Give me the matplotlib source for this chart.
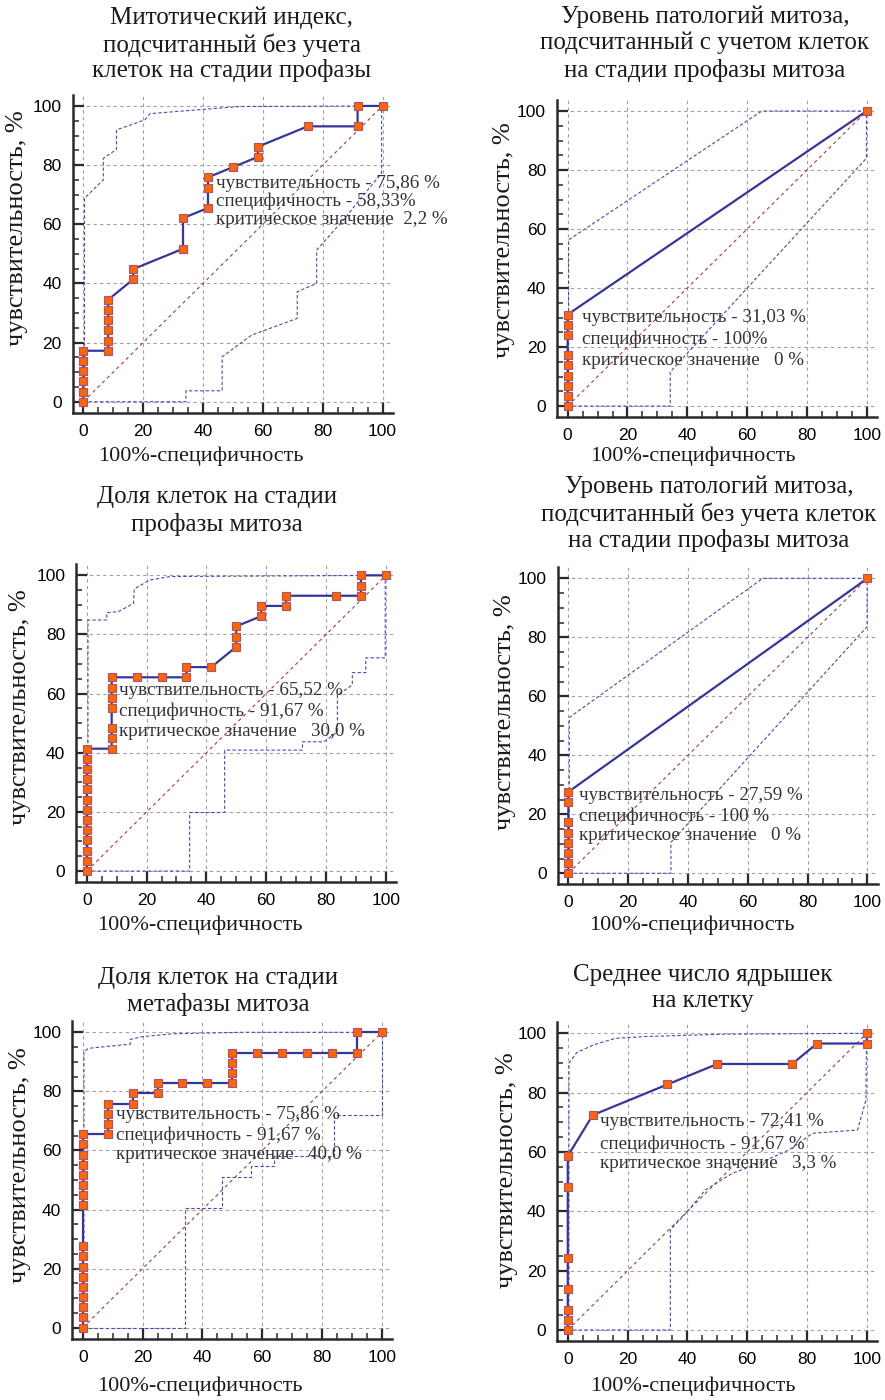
import matplotlib
matplotlib.use('Agg')
import matplotlib.pyplot as plt
from matplotlib.ticker import MultipleLocator

# ---------------- data ----------------
titles = [
    ["Митотический индекс,", "подсчитанный без учета", "клеток на стадии профазы"],
    ["Уровень патологий митоза,", "подсчитанный с учетом клеток", "на стадии профазы митоза"],
    ["Доля клеток на стадии", "профазы митоза"],
    ["Уровень патологий митоза,", "подсчитанный без учета клеток", "на стадии профазы митоза"],
    ["Доля клеток на стадии", "метафазы митоза"],
    ["Среднее число ядрышек", "на клетку"],
]
xlabel_text = "100%-специфичность"
ylabel_text = "чувствительность, %"
tick_values = [0, 20, 40, 60, 80, 100]

notes = [
    ["чувствительность - 75,86 %", "специфичность - 58,33%", "критическое значение  2,2 %"],
    ["чувствительность - 31,03 %", "специфичность - 100%", "критическое значение   0 %"],
    ["чувствительность - 65,52 %", "специфичность - 91,67 %", "критическое значение   30,0 %"],
    ["чувствительность - 27,59 %", "специфичность - 100 %", "критическое значение   0 %"],
    ["чувствительность - 75,86 %", "специфичность - 91,67 %", "критическое значение   40,0 %"],
    ["чувствительность - 72,41 %", "специфичность - 91,67 %", "критическое значение   3,3 %"],
]

# ROC curves (x = 100%-specificity, y = sensitivity)
roc1_x = [0, 0, 0, 0, 0, 0, 8.33, 8.33, 8.33, 8.33, 8.33, 8.33, 16.67, 16.67, 33.33, 33.33,
          41.67, 41.67, 41.67, 50, 58.33, 58.33, 75, 91.67, 91.67, 100]
roc1_y = [0, 3.45, 6.9, 10.34, 13.79, 17.24, 17.24, 20.69, 24.14, 27.59, 31.03, 34.48, 41.38, 44.83, 51.72, 62.07,
          65.52, 72.41, 75.86, 79.31, 82.76, 86.21, 93.1, 93.1, 100, 100]

roc2_x = [0, 0, 0, 0, 0, 0, 0, 0, 0, 100]
roc2_y = [0, 3.45, 6.9, 10.34, 13.79, 17.24, 24.14, 27.59, 31.03, 100]

roc3_x = [0] * 13 + [8.33] * 7 + [16.67, 25, 33.33, 33.33, 41.67, 50, 50, 50, 58.33, 58.33,
                                    66.67, 66.67, 83.33, 91.67, 91.67, 91.67, 100]
roc3_y = [0, 3.45, 6.9, 10.34, 13.79, 17.24, 20.69, 24.14, 27.59, 31.03, 34.48, 37.93, 41.38,
          41.38, 44.83, 48.28, 55.17, 58.62, 62.07, 65.52,
          65.52, 65.52, 65.52, 68.97, 68.97, 75.86, 79.31, 82.76, 86.21, 89.66,
          89.66, 93.1, 93.1, 93.1, 96.55, 100, 100]

roc4_x = [0, 0, 0, 0, 0, 0, 0, 0, 100]
roc4_y = [0, 3.45, 6.9, 10.34, 13.79, 17.24, 24.14, 27.59, 100]

roc5_x = [0] * 17 + [8.33] * 4 + [16.67, 16.67, 25, 25, 33.33, 41.67, 50, 50, 50, 50,
                                   58.33, 66.67, 75, 83.33, 91.67, 91.67, 100]
roc5_y = [0, 3.45, 6.9, 10.34, 13.79, 17.24, 20.69, 24.14, 27.59,
          41.38, 44.83, 48.28, 51.72, 55.17, 58.62, 62.07, 65.52,
          65.52, 68.97, 72.41, 75.86,
          75.86, 79.31, 79.31, 82.76, 82.76, 82.76, 82.76, 86.21, 89.66, 93.1,
          93.1, 93.1, 93.1, 93.1, 93.1, 100, 100]

roc6_x = [0, 0, 0, 0, 0, 0, 0, 8.33, 33.33, 50, 75, 83.33, 100, 100]
roc6_y = [0, 3.45, 6.9, 13.79, 24.14, 48.28, 58.62, 72.41, 82.76, 89.66, 89.66, 96.55, 96.55, 100]

# confidence bands
up1_x = [0.4, 0.4, 6.7, 6.7, 11.1, 11.1, 20.6, 22.3, 52, 100]
up1_y = [0, 68.8, 75, 82.3, 85.3, 91.9, 95.3, 97.4, 99.8, 100]
lo1_x = [0, 34.3, 34.3, 46.4, 46.4, 56.2, 71.5, 71.5, 78, 78, 87.4, 91.4, 99.7, 99.7]
lo1_y = [0, 0, 3.7, 3.7, 15.2, 22.5, 28.2, 37.2, 40, 51.3, 62, 67.1, 77.3, 100]

up2_x = [0.3, 0.3, 64.9, 100]
up2_y = [0, 56.3, 100, 100]
lo2_x = [0, 34.3, 34.3, 99.9, 99.9]
lo2_y = [0, 0, 11.6, 84, 100]

up3_x = [0.4, 0.4, 6.7, 6.7, 10.5, 15.6, 15.9, 21, 28, 100]
up3_y = [0, 84.9, 84.9, 87.4, 87.7, 90.5, 95.4, 98.4, 99.6, 100]
lo3_x = [0, 34.4, 34.4, 46.1, 46.1, 72.1, 72.1, 79.3, 83.8, 83.8, 88.8, 88.8, 93.3, 93.3, 99.8, 99.8]
lo3_y = [0, 0, 19.8, 19.8, 40.9, 40.9, 43.7, 43.7, 47.1, 59.5, 62.9, 67.1, 67.1, 72.1, 72.1, 100]

up4_x = [0.3, 0.3, 65, 100]
up4_y = [0, 52.8, 100, 100]
lo4_x = [0, 34.3, 34.3, 99.9, 99.9]
lo4_y = [0, 0, 10.5, 83.6, 100]

up5_x = [0.4, 0.4, 2, 15.9, 15.9, 19.8, 30, 52.7, 100]
up5_y = [0, 93.5, 94.6, 96, 97.6, 98.5, 99.5, 100, 100]
lo5_x = [0, 34.3, 34.3, 46.4, 46.4, 56.1, 56.1, 63.9, 63.9, 84, 84, 99.9, 99.9]
lo5_y = [0, 0, 40.6, 40.6, 51.1, 51.1, 54.9, 54.9, 58, 58, 72, 72, 100]

up6_x = [0.4, 0.4, 3, 8.6, 15.9, 25.9, 52.7, 100]
up6_y = [0, 89.9, 93.5, 96.1, 98.3, 98.9, 99.7, 100]
lo6_x = [0, 34.3, 34.3, 40.4, 46, 55, 64, 74, 81.8, 96.9, 99.7, 99.9]
lo6_y = [0, 0, 33.7, 40.4, 47.2, 52.8, 56.2, 60.7, 66.3, 67.4, 77.5, 100]

diag_x = [0, 100]
diag_y = [0, 100]

rocs = [(roc1_x, roc1_y), (roc2_x, roc2_y), (roc3_x, roc3_y),
        (roc4_x, roc4_y), (roc5_x, roc5_y), (roc6_x, roc6_y)]
uppers = [(up1_x, up1_y), (up2_x, up2_y), (up3_x, up3_y), (up4_x, up4_y), (up5_x, up5_y), (up6_x, up6_y)]
lowers = [(lo1_x, lo1_y), (lo2_x, lo2_y), (lo3_x, lo3_y), (lo4_x, lo4_y), (lo5_x, lo5_y), (lo6_x, lo6_y)]

# ---------------- layout (pixels) ----------------
W, H = 885, 1400
axes_px = [(72.8, 95, 393, 412.7), (557.2, 100.1, 877.2, 417),
           (76.3, 564.4, 396.3, 882), (557.9, 567.4, 877.9, 884.2),
           (72.3, 1021.4, 392.3, 1338.6), (557.3, 1022.3, 877.3, 1341)]
title_pos = [(232, [18, 45, 71]), (705, [17, 43, 70]), (217, [497, 524]),
             (709, [487, 514, 541]), (218, [978, 1004]), (703, [975, 1001])]
xlabel_pos = [(201, 456), (693, 456), (200, 925), (692, 925), (200, 1386), (693, 1386)]
ylabel_pos = [(17, 228), (504, 240), (20, 707), (505, 712), (20, 1165), (507, 1170)]
note_pos = [(44.3, [73.9, 67.9, 61.6]), (4.7, [29.9, 22.7, 15.6]), (10.9, [61.2, 54.2, 47.3]),
            (3.7, [26.5, 19.5, 12.7]), (11.2, [72.3, 65.0, 58.5]), (10.8, [70.2, 62.7, 56.0])]

SERIF = ['Liberation Serif', 'DejaVu Serif']
SANS = ['Liberation Sans', 'DejaVu Sans']

fig = plt.figure(figsize=(W / 100, H / 100), dpi=100)

for i in range(6):
    l, t, r, b = axes_px[i]
    ax = fig.add_axes([l / W, 1 - b / H, (r - l) / W, (b - t) / H])
    ax.set_xlim(-3.5, 103.5)
    ax.set_ylim(-3.7, 103.7)
    for s in ['top', 'right']:
        ax.spines[s].set_visible(False)
    for s in ['left', 'bottom']:
        ax.spines[s].set_linewidth(1.8)
        ax.spines[s].set_color('#2a2a2a')
    ax.set_xticks(tick_values)
    ax.set_yticks(tick_values)
    ax.xaxis.set_minor_locator(MultipleLocator(5))
    ax.yaxis.set_minor_locator(MultipleLocator(5))
    ax.tick_params(which='major', direction='in', length=8, width=1.6, color='#2a2a2a',
                   labelsize=12.5, pad=8)
    ax.tick_params(which='minor', direction='in', length=4, width=1.1, color='#2a2a2a')
    for lab in ax.get_xticklabels() + ax.get_yticklabels():
        lab.set_family(SANS)
    ax.grid(True, which='major', color='#a0a0a0', linewidth=0.8, linestyle=(0, (3, 3)))
    ax.set_axisbelow(True)

    ax.plot(diag_x, diag_y, color='#b03838', linewidth=0.8, linestyle=(0, (3, 3)), zorder=2)
    ux, uy = uppers[i]
    lx, ly = lowers[i]
    ax.plot(ux, uy, color='#4848c0', linewidth=0.8, linestyle=(0, (3, 2)), zorder=2)
    ax.plot(lx, ly, color='#4848c0', linewidth=0.8, linestyle=(0, (3, 2)), zorder=2)
    rx, ry = rocs[i]
    ax.plot(rx, ry, color='#3535a0', linewidth=1.6, marker='s', markersize=5.5,
            markerfacecolor='#ff6600', markeredgecolor='#b05070', markeredgewidth=0.8,
            zorder=3, clip_on=False)

    nx, nys = note_pos[i]
    for line, ny in zip(notes[i], nys):
        ax.text(nx, ny, line, fontsize=13.7, family=SERIF, color='#333333',
                va='center', ha='left', zorder=5)

    cx, ys = title_pos[i]
    for line, ty in zip(titles[i], ys):
        fig.text(cx / W, 1 - ty / H, line, fontsize=18, family=SERIF, color='#1a1a1a',
                 ha='center', va='center')
    xx, xy = xlabel_pos[i]
    fig.text(xx / W, 1 - xy / H, xlabel_text, fontsize=16, family=SERIF, color='#1a1a1a',
             ha='center', va='center')
    yx, yy = ylabel_pos[i]
    fig.text(yx / W, 1 - yy / H, ylabel_text, fontsize=19, family=SERIF, color='#1a1a1a',
             ha='center', va='center', rotation=90)

fig.savefig('out.png', dpi=100, facecolor='white')
